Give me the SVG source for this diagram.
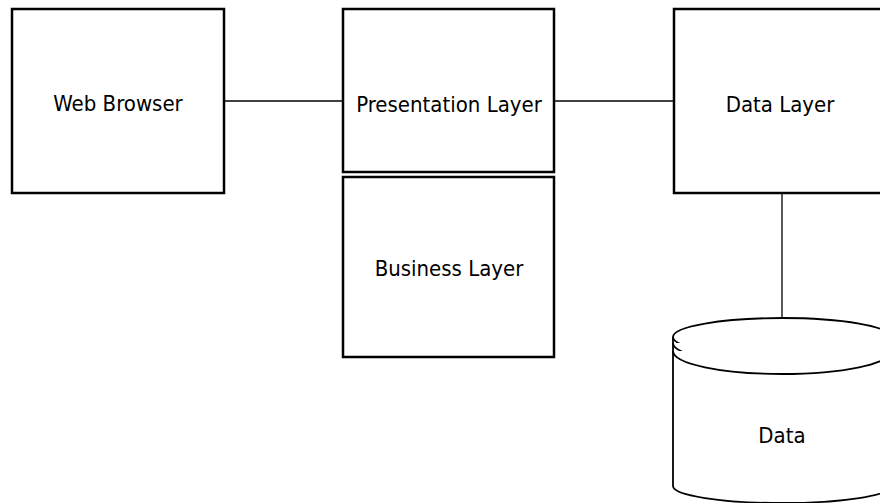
<svg xmlns="http://www.w3.org/2000/svg" width="880" height="503" viewBox="0 0 880 503">
<style>
.box{fill:#fff;stroke:#000;stroke-width:2.5}
.cyl{fill:#fff;stroke:#000;stroke-width:1.8}
.lbl{font-family:"DejaVu Sans Condensed","Liberation Sans Narrow","DejaVu Sans",sans-serif;font-stretch:condensed;font-size:22px;fill:#000;text-anchor:middle}
.conn{stroke:#000;stroke-width:1.3;fill:none}
</style>
<rect width="880" height="503" fill="#fff"/>
<g id="connectors">
<line class="conn" x1="224" y1="101" x2="343" y2="101"/>
<line class="conn" x1="554" y1="101" x2="674" y2="101"/>
<line class="conn" x1="782" y1="193" x2="782" y2="320"/>
</g>
<g id="web-browser">
<rect class="box" x="12" y="9" width="212" height="184"/>
<text class="lbl" x="118" y="111">Web Browser</text>
</g>
<g id="presentation-layer">
<rect class="box" x="343" y="9" width="211" height="163"/>
<text class="lbl" x="449" y="112">Presentation Layer</text>
</g>
<g id="business-layer">
<rect class="box" x="343" y="177" width="211" height="180"/>
<text class="lbl" x="449" y="276">Business Layer</text>
</g>
<g id="data-layer">
<rect class="box" x="674" y="9" width="214" height="184"/>
<text class="lbl" x="780" y="112">Data Layer</text>
</g>
<g id="data">
<path class="cyl" d="M673,337 L673,486 A109,17 0 0 0 891,486 L891,337"/>
<ellipse class="cyl" cx="782" cy="337" rx="109" ry="19"/>
<path class="cyl" d="M673,343 A109,21 0 0 0 891,343"/>
<path class="cyl" d="M673,351 A109,23 0 0 0 891,351"/>
<text class="lbl" x="782" y="443">Data</text>
</g>
</svg>
